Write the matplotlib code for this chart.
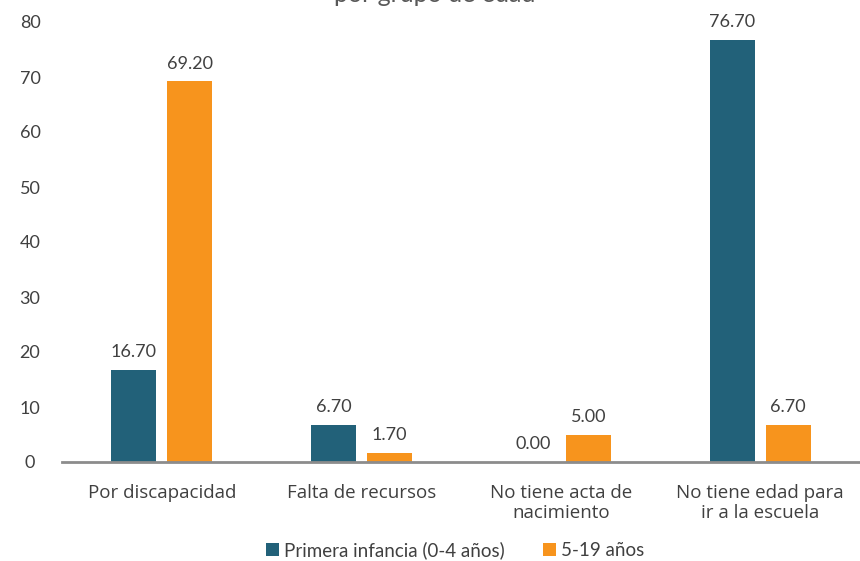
import numpy as np
import matplotlib.pyplot as plt

categories = ["Por discapacidad", "Falta de recursos", "No tiene acta de\nnacimiento",
              "No tiene edad para\nir a la escuela"]
primera_infancia = [16.70, 6.70, 0.00, 76.70]
cinco_19 = [69.20, 1.70, 5.00, 6.70]
series_names = ["Primera infancia (0-4 años)", "5-19 años"]
yticks = [0, 10, 20, 30, 40, 50, 60, 70, 80]

teal = "#226179"
orange = "#F7941D"
text_col = "#404040"

plt.rcParams['font.family'] = ['Lato', 'DejaVu Sans']

fig = plt.figure(figsize=(8.6, 5.61), dpi=100)
ax = fig.add_axes([62 / 860, 1 - 462 / 561, 798 / 860, 440 / 561])

x = np.arange(len(categories))
w = 0.225
off = 0.14
b1 = ax.bar(x - off, primera_infancia, w, color=teal, label=series_names[0])
b2 = ax.bar(x + off, cinco_19, w, color=orange, label=series_names[1])

for bars, vals in ((b1, primera_infancia), (b2, cinco_19)):
    for b, v in zip(bars, vals):
        ax.annotate(f"{v:.2f}", (b.get_x() + b.get_width() / 2, v),
                    xytext=(0, 7), textcoords="offset points",
                    ha="center", va="bottom", fontsize=13, color=text_col)

ax.set_xlim(-0.5, 3.5)
ax.set_ylim(0, 80)
ax.set_yticks(yticks)
ax.set_yticklabels([str(t) for t in yticks], fontsize=13, color=text_col, ha="center")
ax.tick_params(axis="y", length=0, pad=23)
ax.set_xticks(x)
ax.set_xticklabels(categories, fontsize=13.5, color=text_col, linespacing=1.15,
                   family=["Open Sans", "DejaVu Sans"])
ax.tick_params(axis="x", length=0, pad=16)

for s in ("top", "right", "left"):
    ax.spines[s].set_visible(False)
ax.spines["bottom"].set_color("#8c8c8c")
ax.spines["bottom"].set_linewidth(2)
ax.spines["bottom"].set_zorder(5)

fig.legend(loc="center", bbox_to_anchor=(455 / 860, 1 - 550 / 561), ncol=2,
           frameon=False, handlelength=0.7, handleheight=0.7,
           handletextpad=0.3, columnspacing=2.0, labelcolor=text_col,
           prop={"family": ["Liberation Sans Narrow", "Lato"], "size": 13.5})

# title sits partly above the visible canvas
fig.text(435 / 860, 1.0 + 6 / 561, "por grupo de edad", ha="center", va="center",
         fontsize=18, color="#595959")

fig.savefig("out.png", dpi=100)
